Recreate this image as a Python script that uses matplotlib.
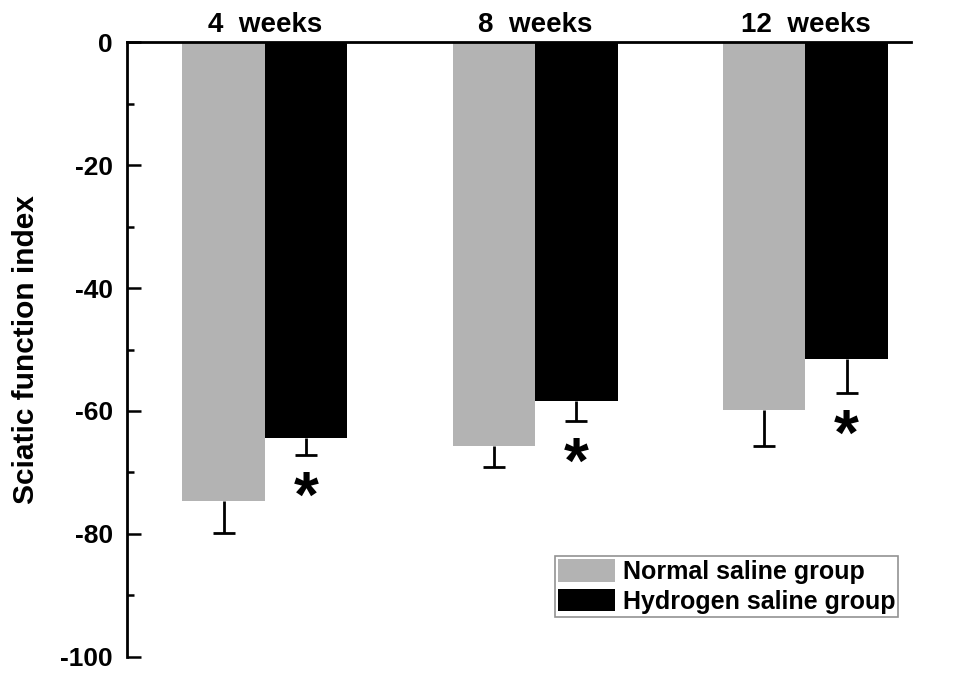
import numpy as np
import matplotlib
matplotlib.use('Agg')
import matplotlib.pyplot as plt
from matplotlib.ticker import MultipleLocator

plt.rcParams['font.family'] = ['Liberation Sans', 'DejaVu Sans']
plt.rcParams['font.weight'] = 'bold'
plt.rcParams['axes.unicode_minus'] = False

weeks = ['4  weeks', '8  weeks', '12  weeks']
normalSaline = [-74.6, -65.7, -59.8]
normalErr = [5.2, 3.4, 5.9]
hydrogenSaline = [-64.4, -58.4, -51.5]
hydrogenErr = [2.8, 3.2, 5.5]
seriesNames = ['Normal saline group', 'Hydrogen saline group']

ind = np.arange(len(weeks))  # group centres
width = 0.305

fig = plt.figure(figsize=(9.69, 6.8), dpi=100)
ax = fig.add_axes([0.131, 0.034, 0.809, 0.904])

rects1 = ax.bar(ind - width / 2, normalSaline, width, color='#b3b3b3', zorder=2)
rects2 = ax.bar(ind + width / 2, hydrogenSaline, width, color='black', zorder=2)

# one-sided error bars, pointing away from zero
for xs, vals, errs in ((ind - width / 2, normalSaline, normalErr),
                       (ind + width / 2, hydrogenSaline, hydrogenErr)):
    eb = ax.errorbar(xs, vals, yerr=[errs, [0] * len(errs)], fmt='none',
                     ecolor='black', elinewidth=2, capsize=8, capthick=2, zorder=1)
    eb[1][1].set_visible(False)

# significance stars under hydrogen group
for x, v, e in zip(ind + width / 2, hydrogenSaline, hydrogenErr):
    ax.text(x, v - e - 7.3, '*', ha='center', va='center', fontsize=46,
            fontweight='bold')

ax.set_ylim(-100, 0)
ax.set_xlim(-0.51, 2.39)
ax.yaxis.set_major_locator(MultipleLocator(20))
ax.yaxis.set_minor_locator(MultipleLocator(10))
ax.tick_params(axis='y', which='major', direction='in', length=10, width=1.8,
               labelsize=19, pad=10)
ax.tick_params(axis='y', which='minor', direction='in', length=5, width=1.8)

ax.xaxis.tick_top()
ax.set_xticks(ind)
ax.set_xticklabels(weeks)
ax.tick_params(axis='x', length=0, labelsize=20, pad=3)

for side in ('bottom', 'right'):
    ax.spines[side].set_visible(False)
for side in ('top', 'left'):
    ax.spines[side].set_linewidth(2)

ax.set_ylabel('Sciatic function index', fontsize=21.5, fontweight='bold', labelpad=15)

leg = ax.legend((rects1[0], rects2[0]), seriesNames, loc='upper right',
                bbox_to_anchor=(0.927, 0.182), bbox_transform=fig.transFigure,
                fancybox=False, edgecolor='#777777', fontsize=18,
                handlelength=2.3, handleheight=1.0, borderpad=0.12,
                labelspacing=0.2, handletextpad=0.3, borderaxespad=0)
leg.get_frame().set_linewidth(1.2)

fig.savefig('out.png', dpi=100)
